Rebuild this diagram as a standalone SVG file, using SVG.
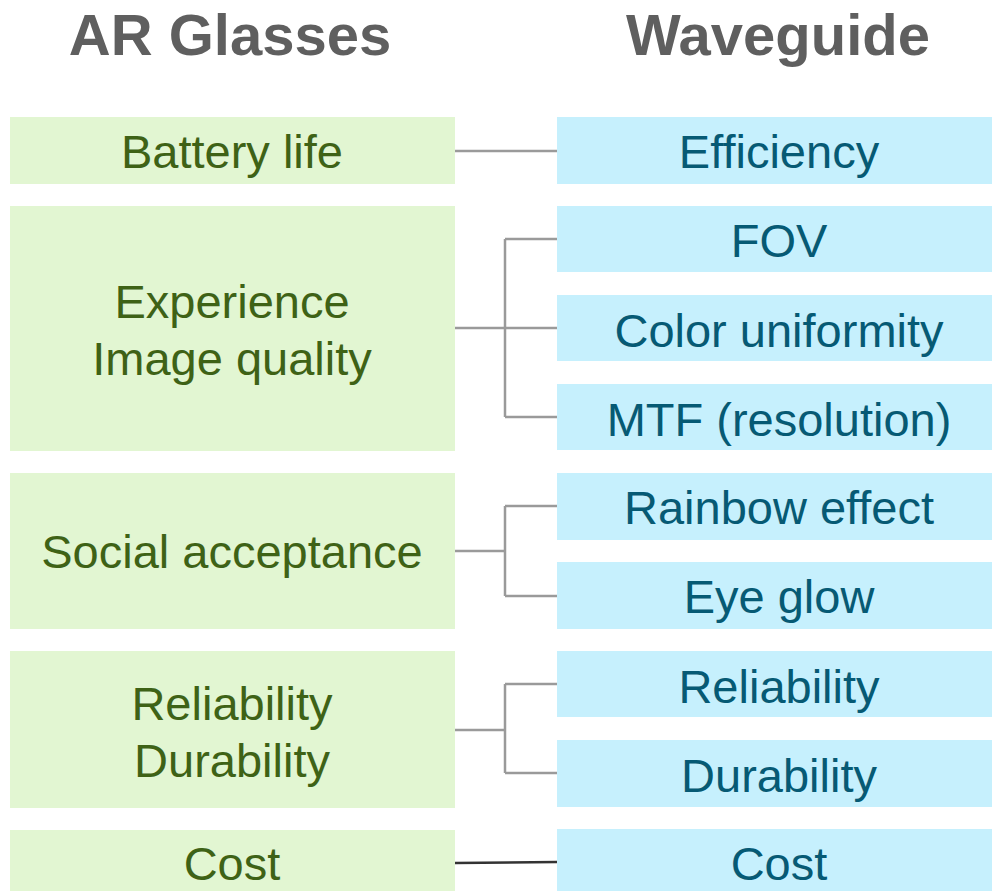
<svg xmlns="http://www.w3.org/2000/svg" width="992" height="891" viewBox="0 0 992 891">
  <style>
    .head { font-family: "Liberation Sans", Arial, sans-serif; font-weight: bold; font-size: 58px; fill: #5f5f5f; text-anchor: middle; }
    .lbox { fill: #e2f6d2; }
    .rbox { fill: #c6f0fd; }
    .ltxt { font-family: "Liberation Sans", Arial, sans-serif; font-size: 47px; fill: #3e6216; text-anchor: middle; }
    .rtxt { font-family: "Liberation Sans", Arial, sans-serif; font-size: 47px; fill: #065a74; text-anchor: middle; }
    .conn { stroke: #9a9a9a; stroke-width: 2.5; fill: none; }
    .conn-dark { stroke: #333333; stroke-width: 2.5; fill: none; }
  </style>

  <!-- column headings -->
  <text class="head" x="230" y="55">AR Glasses</text>
  <text class="head" x="778" y="55">Waveguide</text>

  <!-- AR glasses requirements -->
  <g id="ar-battery">
    <rect class="lbox" x="10" y="117" width="445" height="67"/>
    <text class="ltxt" x="232" y="168">Battery life</text>
  </g>
  <g id="ar-experience">
    <rect class="lbox" x="10" y="206" width="445" height="245"/>
    <text class="ltxt" x="232" y="318">Experience</text>
    <text class="ltxt" x="232" y="375">Image quality</text>
  </g>
  <g id="ar-social">
    <rect class="lbox" x="10" y="473" width="445" height="156"/>
    <text class="ltxt" x="232" y="568">Social acceptance</text>
  </g>
  <g id="ar-reliability">
    <rect class="lbox" x="10" y="651" width="445" height="157"/>
    <text class="ltxt" x="232" y="720">Reliability</text>
    <text class="ltxt" x="232" y="777">Durability</text>
  </g>
  <g id="ar-cost">
    <rect class="lbox" x="10" y="830" width="445" height="61"/>
    <text class="ltxt" x="232" y="880">Cost</text>
  </g>

  <!-- waveguide parameters -->
  <g id="wg-efficiency">
    <rect class="rbox" x="557" y="117" width="435" height="67"/>
    <text class="rtxt" x="779" y="168">Efficiency</text>
  </g>
  <g id="wg-fov">
    <rect class="rbox" x="557" y="206" width="435" height="66"/>
    <text class="rtxt" x="779" y="257">FOV</text>
  </g>
  <g id="wg-color">
    <rect class="rbox" x="557" y="295" width="435" height="66"/>
    <text class="rtxt" x="779" y="347">Color uniformity</text>
  </g>
  <g id="wg-mtf">
    <rect class="rbox" x="557" y="384" width="435" height="66"/>
    <text class="rtxt" x="779" y="436">MTF (resolution)</text>
  </g>
  <g id="wg-rainbow">
    <rect class="rbox" x="557" y="473" width="435" height="67"/>
    <text class="rtxt" x="779" y="524">Rainbow effect</text>
  </g>
  <g id="wg-eyeglow">
    <rect class="rbox" x="557" y="562" width="435" height="67"/>
    <text class="rtxt" x="779" y="613">Eye glow</text>
  </g>
  <g id="wg-reliability">
    <rect class="rbox" x="557" y="651" width="435" height="66"/>
    <text class="rtxt" x="779" y="703">Reliability</text>
  </g>
  <g id="wg-durability">
    <rect class="rbox" x="557" y="740" width="435" height="67"/>
    <text class="rtxt" x="779" y="792">Durability</text>
  </g>
  <g id="wg-cost">
    <rect class="rbox" x="557" y="829" width="435" height="62"/>
    <text class="rtxt" x="779" y="880">Cost</text>
  </g>

  <!-- connectors -->
  <g id="connectors">
    <path class="conn" d="M455 151 H557"/>
    <path class="conn" d="M455 328 H557 M505 239 V417 M505 239 H557 M505 417 H557"/>
    <path class="conn" d="M455 551 H505 M505 506 V596 M505 506 H557 M505 596 H557"/>
    <path class="conn" d="M455 730 H505 M505 684 V773 M505 684 H557 M505 773 H557"/>
    <path class="conn-dark" d="M455 863 L557 862"/>
  </g>
</svg>
